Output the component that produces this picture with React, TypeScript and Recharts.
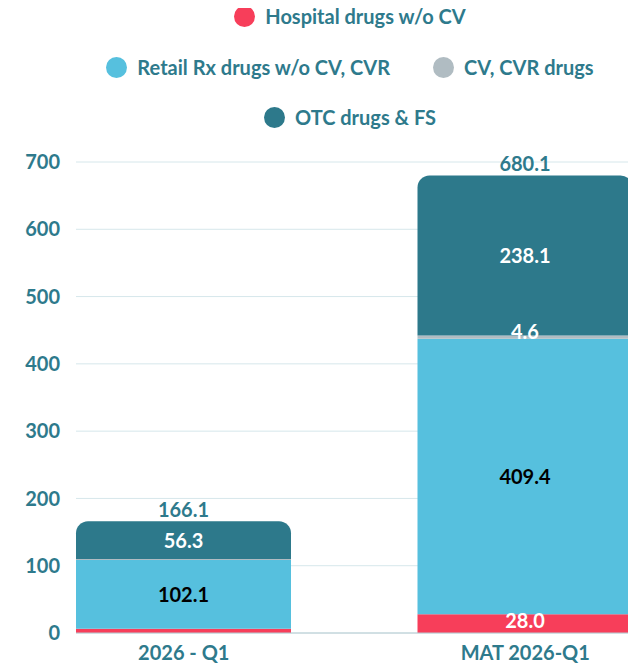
import React from "react";
import {
  BarChart,
  Bar,
  XAxis,
  YAxis,
  CartesianGrid,
  Legend,
  LabelList,
} from "recharts";

const categories = ["2026 - Q1", "MAT 2026-Q1"];
const hospital = [6.5, 28.0];
const retail = [102.1, 409.4];
const cvDrugs = [1.2, 4.6];
const otc = [56.3, 238.1];
const totals = ["166.1", "680.1"];
const yTicks = [0, 100, 200, 300, 400, 500, 600, 700];

// which segment labels are printed (small ones on the first bar are hidden)
const showHospital = [false, true];
const showCv = [false, true];

const series = [
  { key: "hospital", name: "Hospital drugs w/o CV", color: "#F73E5A" },
  { key: "retail", name: "Retail Rx drugs w/o CV, CVR", color: "#56C0DE" },
  { key: "cv", name: "CV, CVR drugs", color: "#B0BCC2" },
  { key: "otc", name: "OTC drugs & FS", color: "#2D798B" },
];

const data = categories.map((c, i) => ({
  name: c,
  hospital: hospital[i],
  retail: retail[i],
  cv: cvDrugs[i],
  otc: otc[i],
  total: totals[i],
}));

const TEXT = "#2E7A8C";
const FONT = "Lato, 'Open Sans', sans-serif";
const FS = 20;

const legendRows = [[0], [1, 2], [3]];
const rowCenters = [8, 59, 109];

function LegendContent() {
  return (
    <div style={{ position: "relative", height: 154, width: 628 }}>
      {legendRows.map((row, r) => (
        <div
          key={r}
          style={{
            position: "absolute",
            top: rowCenters[r] - 14,
            left: 0,
            width: 628,
            paddingLeft: 56,
            boxSizing: "border-box",
            height: 28,
            display: "flex",
            justifyContent: "center",
            alignItems: "center",
            gap: 43,
          }}
        >
          {row.map((idx) => (
            <div key={idx} style={{ display: "flex", alignItems: "center" }}>
              <span
                style={{
                  width: 21,
                  height: 21,
                  borderRadius: "50%",
                  background: series[idx].color,
                  display: "inline-block",
                  marginRight: 10,
                }}
              />
              <span
                style={{
                  color: TEXT,
                  fontFamily: FONT,
                  fontWeight: 700,
                  fontSize: FS,
                  whiteSpace: "nowrap",
                }}
              >
                {series[idx].name}
              </span>
            </div>
          ))}
        </div>
      ))}
    </div>
  );
}

function segmentLabel(fill: string, shown?: boolean[], dy = 0) {
  return (props: any) => {
    const { x, y, width, height, value, index } = props;
    if (shown && !shown[index]) return null;
    return (
      <text
        x={x + width / 2}
        y={y + height / 2 + dy}
        fill={fill}
        textAnchor="middle"
        dominantBaseline="central"
        fontFamily={FONT}
        fontWeight={700}
        fontSize={FS}
      >
        {Number(value).toFixed(1)}
      </text>
    );
  };
}

export default function App() {
  return (
    <BarChart
      width={628}
      height={661}
      data={data}
      margin={{ top: 0, right: 3, bottom: 0, left: 0 }}
    >
      <Legend verticalAlign="top" content={<LegendContent />} />
      <CartesianGrid vertical={false} stroke="#D6E7EB" />
      <XAxis
        dataKey="name"
        padding={{ left: -63, right: -63 }}
        height={36}
        tickSize={0}
        tickMargin={13}
        axisLine={{ stroke: "#B7CCD2" }}
        tick={{ fill: TEXT, fontFamily: FONT, fontWeight: 700, fontSize: FS }}
      />
      <YAxis
        width={68}
        domain={[0, 700]}
        ticks={yTicks}
        axisLine={false}
        tickLine={false}
        tickSize={0}
        tickMargin={16}
        tick={{ fill: TEXT, fontFamily: FONT, fontWeight: 700, fontSize: FS }}
      />
      <Bar dataKey="hospital" stackId="a" fill={series[0].color} barSize={215} isAnimationActive={false}>
        <LabelList dataKey="hospital" content={segmentLabel("#FFFFFF", showHospital, -4)} />
      </Bar>
      <Bar dataKey="retail" stackId="a" fill={series[1].color} isAnimationActive={false}>
        <LabelList dataKey="retail" content={segmentLabel("#000000")} />
      </Bar>
      <Bar dataKey="cv" stackId="a" fill={series[2].color} isAnimationActive={false}>
        <LabelList dataKey="cv" content={segmentLabel("#FFFFFF", showCv, -6)} />
      </Bar>
      <Bar dataKey="otc" stackId="a" fill={series[3].color} radius={[12, 12, 0, 0]} isAnimationActive={false}>
        <LabelList dataKey="otc" content={segmentLabel("#FFFFFF")} />
        <LabelList
          dataKey="total"
          position="top"
          offset={4}
          fill={TEXT}
          fontFamily={FONT}
          fontWeight={700}
          fontSize={FS}
        />
      </Bar>
    </BarChart>
  );
}
